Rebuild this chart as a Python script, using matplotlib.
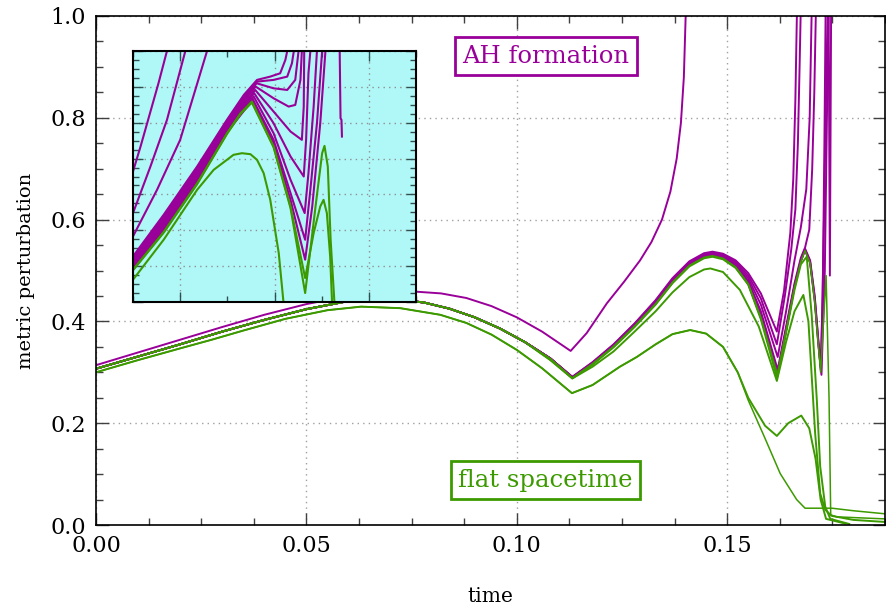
import matplotlib
matplotlib.use("Agg")
import matplotlib.pyplot as plt
from matplotlib.ticker import MultipleLocator, FormatStrFormatter

plt.rcParams['font.family'] = ['DejaVu Serif']

PURPLE = '#990099'
GREEN = '#3c9a00'
CYAN = '#b0f8f8'

# ---------------- main panel data ----------------
# top purple run
p0_t = [0, .01, .02, .03, .04, .05, .06, .068, .075, .082, .088, .094, .100, .106, .1128,
        .1166, .1214, .1255, .1293, .132, .1345, .1365, .138, .139, .1397, .1402]
p0_y = [.314, .339, .364, .389, .413, .434, .450, .457, .459, .455, .446, .430, .408, .380, .342,
        .377, .4355, .478, .520, .556, .600, .655, .720, .790, .880, 1.02]

# shared early part of the purple bundle
be_t = [0, .01, .02, .03, .04, .05, .06, .066, .072, .078, .084, .090, .096, .102, .108]
be_y = [.307, .331, .355, .380, .403, .424, .440, .445, .443, .437, .425, .408, .386, .359, .327]

# rise after first dip and descent to second dip
rise_t = [.1132, .118, .123, .128, .133, .137, .141, .1445, .1465, .149, .152, .155, .158]
m1_rise = [.291, .320, .355, .396, .442, .485, .518, .534, .537, .533, .520, .495, .455]
m2_rise = [.291, .319, .354, .395, .440, .483, .516, .532, .535, .531, .517, .490, .445]
m3_rise = [.290, .318, .353, .394, .439, .481, .514, .530, .533, .529, .514, .485, .433]
m4_rise = [.290, .318, .352, .393, .437, .479, .512, .528, .531, .527, .511, .480, .420]
m5_rise = [.290, .317, .351, .392, .436, .478, .511, .527, .530, .525, .509, .477, .413]
m6_rise = [.289, .317, .351, .391, .435, .477, .510, .526, .529, .524, .507, .474, .408]
g1_rise = [.288, .315, .349, .389, .433, .475, .508, .524, .527, .522, .505, .472, .404]

# late tails
m1_tail_t = [.1618, .1635, .1650, .1657, .1662, .1666]
m1_tail_y = [.380, .460, .574, .680, .835, 1.02]
m2_tail_t = [.1618, .1637, .1652, .1662, .1668, .1672, .1675]
m2_tail_y = [.355, .450, .540, .620, .750, .900, 1.02]
m3_tail_t = [.1620, .1640, .1660, .1675, .1688, .1696, .1701]
m3_tail_y = [.330, .420, .520, .585, .660, .800, 1.02]
m4_tail_t = [.1620, .1640, .1660, .1675, .1685, .1695, .1702, .1707, .1711]
m4_tail_y = [.305, .390, .475, .525, .545, .580, .700, .850, 1.02]
m5_tail_t = [.1620, .1640, .1660, .1675, .1685, .1697, .1708, .1716, .1722, .1727, .1731, .1734]
m5_tail_y = [.298, .385, .470, .520, .543, .520, .450, .370, .310, .450, .750, 1.02]
m6_tail_t = [.1620, .1640, .1660, .1675, .1685, .1697, .1708, .1716, .1724, .1732, .1737, .1741]
m6_tail_y = [.295, .382, .468, .518, .540, .515, .440, .360, .295, .500, .800, 1.02]
m7_tail_t = [.1620, .1640, .1660, .1675, .1685, .1697, .1708, .1716, .1723, .1730, .1736, .1739]
m7_tail_y = [.296, .383, .469, .519, .541, .517, .445, .365, .300, .600, .900, 1.02]
m8_t = [.1741, .1744, .1747]
m8_y = [1.02, .49, 1.02]

g1_tail_t = [.1618, .1640, .1660, .1675, .1689, .1701, .1713, .1721, .1733, .1745, .1790]
g1_tail_y = [.290, .378, .462, .512, .527, .410, .245, .115, .036, .012, .002]

g2_t = [.1132, .118, .123, .128, .133, .137, .141, .1445, .1460, .149, .153, .1575, .1618,
        .1640, .1660, .1681, .1693, .1709, .1721, .1733, .1748, .1800, .1875]
g2_y = [.288, .311, .341, .380, .420, .457, .487, .502, .504, .497, .462, .390, .283,
        .360, .420, .452, .400, .180, .062, .030, .018, .010, .006]

g5_tail_t = [.1620, .1640, .1660, .1675, .1685, .1697, .1708, .1716, .1722, .1735, .1742, .1746, .1760, .1875]
g5_tail_y = [.294, .381, .467, .517, .539, .514, .438, .358, .300, .490, .250, .020, .016, .012]

# lowest green run
g3_t = [0, .01, .02, .0275, .035, .045, .055, .063, .0723, .0818, .088, .094, .100, .106, .1131,
        .118, .1245, .1285, .133, .137, .1412, .145, .149, .1525]
g3_y = [.300, .324, .347, .364, .382, .405, .422, .429, .426, .413, .397, .374, .344, .308, .259,
        .275, .311, .330, .355, .375, .383, .376, .350, .300]
g3a_tail_t = [.1525, .1550, .1590, .1618, .1645, .1676, .1695, .1710, .1722, .1735, .1780]
g3a_tail_y = [.300, .250, .195, .175, .200, .215, .190, .130, .050, .012, .003]
g3b_tail_t = [.1525, .1550, .1590, .1626, .1665, .1685, .1749, .1800, .1875]
g3b_tail_y = [.300, .245, .170, .101, .050, .033, .033, .028, .022]

# ---------------- inset data ----------------
i1_x = [.16500, .16516, .16530, .16554, .16572, .16577]
i1_y = [.4820, .5168, .5493, .6050, .6500, .6600]
i2_x = [.16500, .16537, .16572, .16611, .16614]
i2_y = [.4240, .4890, .5539, .6500, .6600]
i3_x = [.16500, .16551, .16600, .16657, .16660]
i3_y = [.3915, .4565, .5261, .6500, .6600]

pa_x = [.16500, .16565, .16636, .16699, .16735, .16763, .16791, .16812, .16823, .16827, .16828]
pa_y = [.3636, .4216, .4890, .5539, .5888, .6097, .6143, .6189, .6375, .6500, .6600]
pb_x = [.16500, .16565, .16636, .16699, .16735, .16763, .16798, .16827, .16837, .16841, .16842]
pb_y = [.3613, .4188, .4862, .5516, .5855, .6073, .6097, .6143, .6329, .6500, .6600]
pc_x = [.16500, .16565, .16636, .16699, .16735, .16762, .16798, .16827, .16844, .16851, .16852]
pc_y = [.3590, .4160, .4834, .5493, .5827, .6050, .5980, .5957, .6097, .6500, .6600]
pd_x = [.16500, .16565, .16636, .16699, .16735, .16760, .16798, .16830, .16844, .16855, .16858, .16859]
pd_y = [.3571, .4133, .4806, .5470, .5795, .6004, .5841, .5725, .5748, .6097, .6500, .6600]
pe_x = [.16500, .16565, .16636, .16699, .16735, .16759, .16798, .16834, .16858, .16862, .16863, .16864]
pe_y = [.3552, .4105, .4778, .5447, .5762, .5957, .5656, .5377, .5261, .5725, .6500, .6600]
pf_x = [.16500, .16565, .16636, .16699, .16735, .16757, .16798, .16834, .16862, .16867, .16872, .16876, .16877]
pf_y = [.3534, .4077, .4750, .5423, .5734, .5911, .5493, .5029, .4750, .5261, .6189, .6500, .6600]
pg_x = [.16500, .16565, .16636, .16699, .16735, .16756, .16798, .16834, .16864, .16872, .16883, .16890, .16891]
pg_y = [.3515, .4049, .4722, .5400, .5707, .5864, .5354, .4704, .4240, .4797, .5725, .6500, .6600]
ph_x = [.16500, .16565, .16636, .16699, .16735, .16754, .16798, .16834, .16865, .16876, .16890, .16901, .16902]
ph_y = [.3497, .4021, .4695, .5377, .5679, .5827, .5261, .4518, .3868, .4565, .5493, .6500, .6600]
pi_x = [.16500, .16565, .16636, .16699, .16735, .16753, .16798, .16834, .16865, .16880, .16897, .16908, .16909]
pi_y = [.3478, .3998, .4671, .5363, .5665, .5804, .5214, .4425, .3590, .4332, .5493, .6500, .6600]
gi1_x = [.16500, .16565, .16636, .16699, .16728, .16752, .16798, .16834, .16865, .16883, .16897,
         .16904, .16911, .16918, .16922, .16923]
gi1_y = [.3450, .3975, .4653, .5349, .5632, .5795, .5168, .4332, .3334, .3961, .4332,
         .4425, .4240, .3636, .3000, .2900]
gi2_x = [.16500, .16565, .16636, .16699, .16728, .16752, .16798, .16834, .16865, .16887, .16901,
         .16906, .16913, .16919, .16927, .16928]
gi2_y = [.3441, .3966, .4643, .5340, .5623, .5781, .5159, .4309, .3125, .4332, .5075,
         .5177, .4890, .3868, .3000, .2900]
gi3_x = [.16500, .16565, .16636, .16671, .16699, .16713, .16731, .16749, .16763, .16777, .16791, .16809, .16819, .16820]
gi3_y = [.3311, .3868, .4565, .4843, .4982, .5052, .5075, .5061, .4982, .4797, .4425, .3682, .3000, .2900]
spike_x = [.16938, .16940, .16942, .16943]
spike_y = [.6600, .5563, .5539, .5307]

# ---------------- figure ----------------
fig = plt.figure(figsize=(8.87, 6.12), dpi=100)
ax = fig.add_axes([96/887, 87/612, 789/887, 509/612])

lw = 1.4
ax.plot(p0_t, p0_y, color=PURPLE, lw=lw)
for rise, tt, ty in [(m1_rise, m1_tail_t, m1_tail_y), (m2_rise, m2_tail_t, m2_tail_y),
                     (m3_rise, m3_tail_t, m3_tail_y), (m4_rise, m4_tail_t, m4_tail_y),
                     (m5_rise, m5_tail_t, m5_tail_y), (m6_rise, m6_tail_t, m6_tail_y),
                     (m6_rise, m7_tail_t, m7_tail_y)]:
    ax.plot(be_t + rise_t + tt, be_y + rise + ty, color=PURPLE, lw=lw)
ax.plot(m8_t, m8_y, color=PURPLE, lw=lw)

ax.plot(be_t + rise_t + g1_tail_t, be_y[:-1] + [.324] + g1_rise + g1_tail_y, color=GREEN, lw=lw)
ax.plot(be_t + g2_t, be_y[:-1] + [.324] + g2_y, color=GREEN, lw=lw)
ax.plot(be_t + rise_t + g5_tail_t, be_y + m6_rise + g5_tail_y, color=GREEN, lw=1.1)
ax.plot(g3_t + g3a_tail_t, g3_y + g3a_tail_y, color=GREEN, lw=lw)
ax.plot(g3_t + g3b_tail_t, g3_y + g3b_tail_y, color=GREEN, lw=1.1)

ax.set_xlim(0, 0.1875)
ax.set_ylim(0, 1.0)
ax.xaxis.set_major_locator(MultipleLocator(0.05))
ax.xaxis.set_minor_locator(MultipleLocator(0.0125))
ax.yaxis.set_major_locator(MultipleLocator(0.2))
ax.yaxis.set_minor_locator(MultipleLocator(0.05))
ax.xaxis.set_major_formatter(FormatStrFormatter('%.2f'))
ax.yaxis.set_major_formatter(FormatStrFormatter('%.1f'))
ax.tick_params(which='both', direction='in', top=True, right=True, color='#404040', labelsize=16)
ax.tick_params(which='major', length=9, width=1.0, pad=7)
ax.tick_params(which='minor', length=5, width=1.0)
ax.grid(True, which='major', linestyle=(0, (1, 3)), color='#a0a0a0', lw=1.0)
ax.set_axisbelow(True)
for s in ax.spines.values():
    s.set_linewidth(1.2)
ax.set_xlabel('time', fontsize=14.5, labelpad=22)
ax.set_ylabel('metric perturbation', fontsize=14, labelpad=11)

ax.text(0.570, 0.921, 'AH formation', transform=ax.transAxes, ha='center', va='center',
        color=PURPLE, fontsize=17.5,
        bbox=dict(boxstyle='square,pad=0.3', fc='white', ec=PURPLE, lw=2))
ax.text(0.570, 0.088, 'flat spacetime', transform=ax.transAxes, ha='center', va='center',
        color=GREEN, fontsize=17.5,
        bbox=dict(boxstyle='square,pad=0.3', fc='white', ec=GREEN, lw=2))

# ---------------- inset ----------------
axi = fig.add_axes([133/887, 310/612, 283/887, 251/612])
axi.set_facecolor(CYAN)
ilw = 1.5
for xs, ys in [(i1_x, i1_y), (i2_x, i2_y), (i3_x, i3_y), (pa_x, pa_y), (pb_x, pb_y),
               (pc_x, pc_y), (pd_x, pd_y), (pe_x, pe_y), (pf_x, pf_y), (pg_x, pg_y),
               (ph_x, ph_y), (pi_x, pi_y), (spike_x, spike_y)]:
    axi.plot(xs, ys, color=PURPLE, lw=ilw)
for xs, ys in [(gi1_x, gi1_y), (gi2_x, gi2_y), (gi3_x, gi3_y)]:
    axi.plot(xs, ys, color=GREEN, lw=ilw)
axi.set_xlim(0.165, 0.171)
axi.set_ylim(0.30, 0.65)
axi.xaxis.set_major_locator(MultipleLocator(0.002))
axi.xaxis.set_minor_locator(MultipleLocator(0.001))
axi.yaxis.set_major_locator(MultipleLocator(0.05))
axi.yaxis.set_minor_locator(MultipleLocator(0.0125))
axi.tick_params(which='both', direction='in', top=True, right=True, color='#305050',
                labelbottom=False, labelleft=False)
axi.tick_params(which='major', length=7, width=1.0)
axi.tick_params(which='minor', length=4, width=1.0)
axi.grid(True, which='major', linestyle=(0, (1, 3)), color='#909090', lw=1.0)
axi.set_axisbelow(True)
for s in axi.spines.values():
    s.set_linewidth(1.5)

fig.savefig('out.png', dpi=100)
